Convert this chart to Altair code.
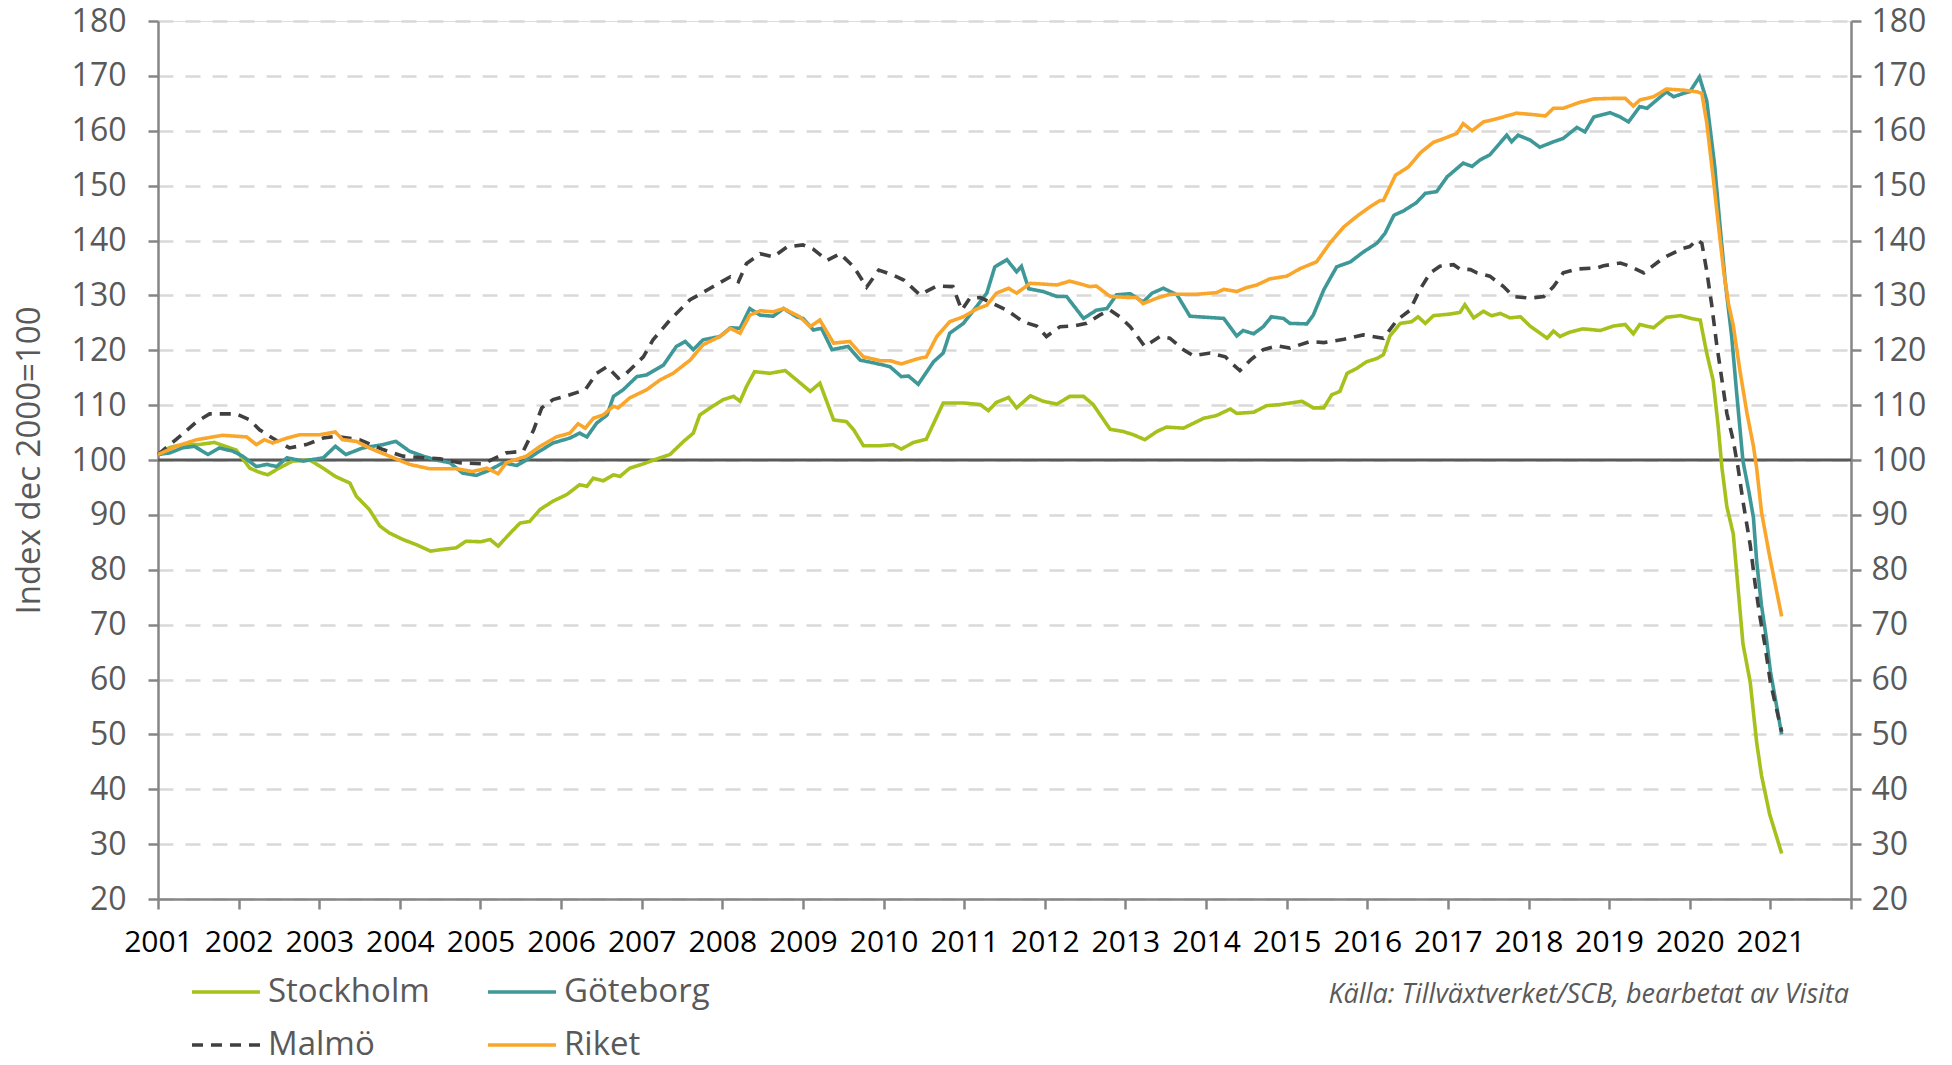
import altair as alt
import pandas as pd

SERIES = ["Stockholm", "Göteborg", "Malmö", "Riket"]
COLORS = ["#a4c11c", "#3e9898", "#404040", "#f9a62b"]
DASHES = [[1, 0], [1, 0], [11, 8], [1, 0]]

# (decimal year, index value)
STOCKHOLM = [
    (2001.0, 101), (2001.15, 102.3), (2001.3, 102.8), (2001.5, 102.8), (2001.7, 103.2), (2001.97, 101.8),
    (2002.14, 98.5), (2002.25, 97.8), (2002.36, 97.3), (2002.5, 98.5), (2002.67, 99.8), (2002.88, 100),
    (2003.05, 98.5), (2003.2, 97), (2003.38, 95.8), (2003.46, 93.4), (2003.62, 91), (2003.75, 88),
    (2003.87, 86.7), (2004.04, 85.5), (2004.2, 84.6), (2004.38, 83.4), (2004.53, 83.7), (2004.7, 84),
    (2004.82, 85.2), (2005.0, 85.1), (2005.12, 85.5), (2005.22, 84.3), (2005.37, 86.7), (2005.49, 88.5),
    (2005.61, 88.8), (2005.74, 91), (2005.9, 92.5), (2006.07, 93.7), (2006.23, 95.5), (2006.32, 95.2),
    (2006.4, 96.7), (2006.52, 96.2), (2006.65, 97.3), (2006.73, 97), (2006.85, 98.5), (2007.02, 99.3),
    (2007.19, 100.2), (2007.35, 101), (2007.52, 103.4), (2007.64, 104.9), (2007.72, 108.2), (2007.85, 109.5),
    (2008.01, 111), (2008.14, 111.6), (2008.22, 110.7), (2008.3, 113.4), (2008.4, 116.1), (2008.59, 115.8),
    (2008.78, 116.3), (2008.92, 114.6), (2009.09, 112.5), (2009.21, 114), (2009.38, 107.3), (2009.54, 107),
    (2009.63, 105.5), (2009.75, 102.6), (2009.96, 102.6), (2010.12, 102.8), (2010.22, 102), (2010.37, 103.2),
    (2010.53, 103.8), (2010.74, 110.4), (2010.99, 110.4), (2011.2, 110.1), (2011.3, 109), (2011.4, 110.5),
    (2011.55, 111.4), (2011.65, 109.5), (2011.82, 111.7), (2011.98, 110.7), (2012.15, 110.2), (2012.31, 111.6),
    (2012.48, 111.6), (2012.6, 110.1), (2012.81, 105.6), (2012.97, 105.2), (2013.1, 104.6), (2013.24, 103.7),
    (2013.39, 105.2), (2013.51, 106), (2013.72, 105.8), (2013.97, 107.6), (2014.13, 108.1), (2014.3, 109.3),
    (2014.38, 108.5), (2014.59, 108.7), (2014.75, 109.9), (2014.92, 110.1), (2015.19, 110.7), (2015.33, 109.5),
    (2015.46, 109.5), (2015.56, 111.9), (2015.66, 112.5), (2015.75, 115.8), (2015.87, 116.7), (2015.99, 117.9),
    (2016.12, 118.5), (2016.2, 119.2), (2016.28, 122.6), (2016.41, 124.9), (2016.55, 125.2), (2016.63, 126.1),
    (2016.72, 124.9), (2016.82, 126.3), (2017.03, 126.6), (2017.15, 126.9), (2017.21, 128.3), (2017.32, 125.9),
    (2017.44, 127.1), (2017.54, 126.3), (2017.65, 126.7), (2017.77, 125.9), (2017.9, 126.1), (2018.02, 124.4),
    (2018.23, 122.2), (2018.31, 123.5), (2018.39, 122.5), (2018.51, 123.3), (2018.68, 123.9), (2018.89, 123.6),
    (2019.05, 124.4), (2019.2, 124.7), (2019.3, 123), (2019.38, 124.7), (2019.55, 124.1), (2019.71, 126),
    (2019.88, 126.3), (2020.05, 125.7), (2020.13, 125.5), (2020.21, 119.5), (2020.29, 114.5), (2020.35, 106.5),
    (2020.4, 98.5), (2020.46, 91.5), (2020.54, 86.5), (2020.6, 76.5), (2020.66, 66.5), (2020.75, 59.5),
    (2020.83, 48.5), (2020.89, 42.5), (2020.99, 35.5), (2021.14, 28.3),
]

GOTEBORG = [
    (2001.0, 101), (2001.15, 101.3), (2001.3, 102.2), (2001.45, 102.5), (2001.62, 101), (2001.76, 102.2),
    (2001.93, 101.6), (2002.05, 100.7), (2002.22, 98.8), (2002.35, 99.2), (2002.47, 98.8), (2002.6, 100.4),
    (2002.8, 99.8), (2003.05, 100.4), (2003.2, 102.5), (2003.33, 101), (2003.54, 102.2), (2003.79, 102.8),
    (2003.95, 103.4), (2004.12, 101.6), (2004.29, 100.7), (2004.45, 100), (2004.62, 99.5), (2004.78, 97.6),
    (2004.95, 97.2), (2005.12, 98.2), (2005.28, 99.5), (2005.45, 99), (2005.57, 100), (2005.7, 101.3),
    (2005.9, 103.1), (2006.11, 104), (2006.23, 104.9), (2006.32, 104.2), (2006.44, 106.7), (2006.57, 108.2),
    (2006.65, 111.6), (2006.77, 112.8), (2006.94, 115.2), (2007.06, 115.5), (2007.27, 117.3), (2007.43, 120.7),
    (2007.54, 121.6), (2007.64, 120.1), (2007.76, 121.9), (2007.97, 122.5), (2008.1, 124.1), (2008.22, 124),
    (2008.34, 127.6), (2008.47, 126.4), (2008.63, 126.2), (2008.76, 127.6), (2008.92, 126.1), (2009.0, 125.8),
    (2009.13, 123.7), (2009.23, 124), (2009.36, 120.1), (2009.56, 120.7), (2009.71, 118.2), (2009.91, 117.6),
    (2010.08, 117), (2010.22, 115.2), (2010.31, 115.3), (2010.43, 113.8), (2010.62, 117.9), (2010.74, 119.5),
    (2010.82, 123.1), (2010.99, 124.9), (2011.15, 127.9), (2011.28, 130.4), (2011.38, 135.2), (2011.53, 136.5),
    (2011.65, 134.3), (2011.71, 135.3), (2011.8, 131.2), (2011.98, 130.7), (2012.15, 129.8), (2012.27, 129.8),
    (2012.48, 125.8), (2012.64, 127.3), (2012.77, 127.6), (2012.89, 130.1), (2013.06, 130.3), (2013.22, 128.8),
    (2013.33, 130.4), (2013.47, 131.3), (2013.64, 130.1), (2013.8, 126.2), (2014.01, 126), (2014.22, 125.8),
    (2014.38, 122.6), (2014.46, 123.6), (2014.59, 123), (2014.71, 124.3), (2014.81, 126.1), (2014.96, 125.8),
    (2015.04, 124.9), (2015.25, 124.8), (2015.33, 126.4), (2015.46, 131), (2015.62, 135.2), (2015.79, 136.1),
    (2015.95, 137.9), (2016.12, 139.5), (2016.22, 141.3), (2016.33, 144.6), (2016.45, 145.4), (2016.61, 146.9),
    (2016.72, 148.6), (2016.86, 148.9), (2016.99, 151.6), (2017.19, 154.1), (2017.3, 153.5), (2017.4, 154.7),
    (2017.52, 155.6), (2017.73, 159.2), (2017.79, 158), (2017.87, 159.2), (2018.02, 158.3), (2018.14, 157),
    (2018.31, 158), (2018.43, 158.6), (2018.6, 160.6), (2018.7, 159.8), (2018.81, 162.5), (2019.01, 163.3),
    (2019.14, 162.5), (2019.24, 161.6), (2019.38, 164.4), (2019.47, 164.1), (2019.59, 165.6), (2019.71, 167.1),
    (2019.8, 166.2), (2019.92, 166.8), (2020.0, 167.1), (2020.12, 169.8), (2020.21, 165.5), (2020.31, 153.5),
    (2020.37, 143.5), (2020.44, 132.5), (2020.52, 122.5), (2020.58, 112.5), (2020.66, 99.8), (2020.73, 94.5),
    (2020.79, 89.5), (2020.83, 81.5), (2020.89, 73.5), (2020.95, 67.5), (2021.0, 61.5), (2021.14, 50),
]

MALMO = [
    (2001.0, 101), (2001.27, 104.3), (2001.48, 107), (2001.64, 108.4), (2001.97, 108.4), (2002.14, 107.3),
    (2002.26, 105.5), (2002.42, 104), (2002.63, 102.2), (2002.84, 102.8), (2003.05, 104), (2003.2, 104.3),
    (2003.5, 103.7), (2003.79, 101.9), (2004.04, 100.7), (2004.29, 100.4), (2004.5, 100.2), (2004.74, 99.5),
    (2005.03, 99.3), (2005.32, 101.3), (2005.53, 101.6), (2005.66, 105.5), (2005.76, 109.5), (2005.9, 111),
    (2006.11, 111.9), (2006.3, 112.8), (2006.44, 115.8), (2006.57, 117), (2006.71, 114.9), (2006.81, 115.8),
    (2007.02, 118.8), (2007.14, 121.9), (2007.35, 125.5), (2007.6, 129.2), (2007.85, 131.3), (2008.1, 133.4),
    (2008.2, 132.5), (2008.3, 135.8), (2008.47, 137.6), (2008.63, 137), (2008.8, 138.8), (2009.0, 139.2),
    (2009.13, 138.4), (2009.3, 136.4), (2009.46, 137.6), (2009.63, 135.2), (2009.79, 131.5), (2009.94, 134.6),
    (2010.12, 133.7), (2010.25, 132.8), (2010.45, 130.1), (2010.66, 131.7), (2010.86, 131.6), (2010.97, 127.3),
    (2011.07, 129.5), (2011.2, 129.6), (2011.36, 128.5), (2011.53, 127.3), (2011.73, 125.2), (2011.9, 124.4),
    (2012.02, 122.5), (2012.19, 124.3), (2012.35, 124.4), (2012.52, 124.9), (2012.68, 126.4), (2012.81, 127.3),
    (2012.93, 126.1), (2013.06, 124.3), (2013.24, 120.7), (2013.43, 122.5), (2013.55, 122.2), (2013.72, 120.1),
    (2013.84, 119), (2014.05, 119.5), (2014.24, 118.8), (2014.32, 117.6), (2014.42, 116.3), (2014.55, 118.2),
    (2014.71, 120.1), (2014.88, 120.8), (2015.04, 120.4), (2015.29, 121.6), (2015.46, 121.4), (2015.71, 122),
    (2015.95, 122.8), (2016.2, 122.2), (2016.37, 125.5), (2016.53, 127.3), (2016.65, 131), (2016.78, 134.1),
    (2016.9, 135.3), (2017.07, 135.6), (2017.15, 134.8), (2017.28, 134.7), (2017.36, 134.1), (2017.52, 133.5),
    (2017.69, 131.6), (2017.81, 129.8), (2018.02, 129.5), (2018.19, 129.8), (2018.31, 131.6), (2018.43, 134.1),
    (2018.6, 134.8), (2018.85, 135), (2018.93, 135.4), (2019.14, 135.9), (2019.26, 135.3), (2019.43, 134.1),
    (2019.51, 135), (2019.67, 136.8), (2019.92, 138.6), (2020.0, 138.9), (2020.09, 140.1), (2020.15, 139.5),
    (2020.21, 134.5), (2020.27, 128.5), (2020.33, 121.5), (2020.4, 114.5), (2020.46, 108.5), (2020.54, 103.5),
    (2020.6, 98.5), (2020.66, 92.5), (2020.75, 84.5), (2020.81, 77.5), (2020.87, 71.5), (2020.93, 66.5),
    (2021.0, 59.5), (2021.14, 50.5),
]

RIKET = [
    (2001.0, 101), (2001.23, 102.5), (2001.48, 103.7), (2001.8, 104.5), (2002.1, 104.2), (2002.22, 102.8),
    (2002.32, 103.7), (2002.42, 103.1), (2002.6, 104), (2002.76, 104.6), (2003.0, 104.6), (2003.2, 105.1),
    (2003.29, 103.7), (2003.46, 103.4), (2003.62, 102.2), (2003.87, 100.7), (2004.12, 99.2), (2004.37, 98.4),
    (2004.7, 98.4), (2004.9, 97.9), (2005.08, 98.5), (2005.22, 97.5), (2005.32, 99.5), (2005.57, 100.7),
    (2005.74, 102.5), (2005.94, 104.2), (2006.11, 104.9), (2006.21, 106.6), (2006.3, 105.8), (2006.4, 107.6),
    (2006.52, 108.2), (2006.65, 109.8), (2006.71, 109.5), (2006.85, 111.3), (2007.06, 112.8), (2007.23, 114.6),
    (2007.39, 115.8), (2007.6, 118.2), (2007.76, 121), (2007.97, 122.5), (2008.1, 124), (2008.22, 123.1),
    (2008.34, 126.4), (2008.47, 127.2), (2008.63, 127), (2008.76, 127.6), (2008.96, 126.1), (2009.09, 124.3),
    (2009.21, 125.5), (2009.38, 121.3), (2009.58, 121.6), (2009.75, 118.8), (2009.96, 118.1), (2010.08, 118.1),
    (2010.22, 117.5), (2010.41, 118.4), (2010.53, 118.8), (2010.66, 122.5), (2010.82, 125.2), (2010.99, 126.1),
    (2011.15, 127.5), (2011.28, 128.2), (2011.4, 130.4), (2011.55, 131.3), (2011.65, 130.4), (2011.82, 132.2),
    (2012.15, 131.9), (2012.31, 132.6), (2012.56, 131.6), (2012.64, 131.7), (2012.81, 129.8), (2013.06, 129.6),
    (2013.14, 129.6), (2013.22, 128.5), (2013.39, 129.5), (2013.55, 130.2), (2013.88, 130.2), (2014.13, 130.5),
    (2014.22, 131.1), (2014.38, 130.7), (2014.5, 131.4), (2014.63, 131.9), (2014.79, 133), (2015.0, 133.5),
    (2015.17, 134.9), (2015.37, 136.1), (2015.54, 139.6), (2015.71, 142.5), (2015.87, 144.4), (2016.04, 146.2),
    (2016.16, 147.3), (2016.2, 147.3), (2016.35, 151.9), (2016.51, 153.4), (2016.66, 156), (2016.82, 157.9),
    (2016.9, 158.3), (2017.11, 159.5), (2017.19, 161.3), (2017.3, 160), (2017.44, 161.6), (2017.61, 162.2),
    (2017.85, 163.2), (2018.02, 163), (2018.21, 162.7), (2018.31, 164.1), (2018.43, 164.1), (2018.64, 165.2),
    (2018.81, 165.8), (2019.05, 165.9), (2019.2, 165.9), (2019.3, 164.5), (2019.38, 165.6), (2019.55, 166.2),
    (2019.71, 167.6), (2019.92, 167.4), (2020.09, 167.1), (2020.15, 166.8), (2020.21, 161.5), (2020.29, 151.5),
    (2020.35, 143.5), (2020.42, 134.5), (2020.48, 128.5), (2020.54, 124.5), (2020.62, 116.5), (2020.71, 108.5),
    (2020.79, 102.5), (2020.83, 98.5), (2020.89, 90.5), (2020.99, 82.5), (2021.14, 71.5),
]

YEAR_TICKS = list(range(2001, 2023))
Y_TICKS = list(range(20, 181, 10))
REFERENCE = [100]
SOURCE = ["Källa: Tillväxtverket/SCB, bearbetat av Visita"]

rows = []
for name, pts in zip(SERIES, [STOCKHOLM, GOTEBORG, MALMO, RIKET]):
    for t, v in pts:
        rows.append({"series": name, "t": t, "v": v})
df = pd.DataFrame(rows)

FONT = "Open Sans"
GRAY = "#595959"
AXIS_GRAY = "#868686"
PLOT_W = 1693
PLOT_H = 878

x_enc = alt.X(
    "t:Q",
    scale=alt.Scale(domain=[2001, 2022], nice=False, zero=False),
    axis=alt.Axis(
        values=YEAR_TICKS, format="d", title=None, grid=False,
        labelExpr="datum.value == 2022 ? '' : datum.label",
        domainColor=AXIS_GRAY, domainWidth=2.5, tickColor=AXIS_GRAY, tickWidth=2.5,
        tickSize=10, labelColor="#000000", labelFont=FONT, labelFontSize=30,
        labelPadding=18, labelFlush=False, labelOverlap=False,
    ),
)

y_scale = alt.Scale(domain=[20, 180], nice=False, zero=False)

legend_cfg = dict(
    title=None, orient="none", legendX=32, legendY=935, columns=2, direction="horizontal",
    symbolType="stroke", symbolSize=4624, symbolStrokeWidth=3.4,
    labelFont=FONT, labelFontSize=33, labelColor=GRAY, labelOffset=6,
    columnPadding=51, rowPadding=-18, labelLimit=400,
)

lines = alt.Chart(df).mark_line(strokeWidth=3.6).encode(
    x=x_enc,
    y=alt.Y(
        "v:Q", scale=y_scale,
        axis=alt.Axis(
            orient="left", values=Y_TICKS, title="Index dec 2000=100",
            grid=True, gridColor="#d9d9d9", gridDash=[15, 12], gridWidth=2.5,
            domainColor=AXIS_GRAY, domainWidth=2.5, tickColor=AXIS_GRAY, tickWidth=2.5,
            tickSize=10, labelColor=GRAY, labelFont=FONT, labelFontSize=32, labelPadding=22,
            titleColor=GRAY, titleFont=FONT, titleFontSize=33, titleFontWeight="normal",
            titleAngle=-90, titleX=-129, titleY=PLOT_H / 2, titleAlign="center", titleBaseline="middle",
        ),
    ),
    color=alt.Color(
        "series:N",
        scale=alt.Scale(domain=SERIES, range=COLORS),
        legend=alt.Legend(**legend_cfg),
    ),
    strokeDash=alt.StrokeDash(
        "series:N",
        scale=alt.Scale(domain=SERIES, range=DASHES),
        legend=alt.Legend(**legend_cfg),
    ),
    order=alt.Order("t:Q"),
)

ref_rule = alt.Chart(pd.DataFrame({"ref": REFERENCE})).mark_rule(
    color=GRAY, strokeWidth=3
).encode(
    y=alt.Y(
        "ref:Q", scale=y_scale,
        axis=alt.Axis(
            orient="right", values=Y_TICKS, title=None, grid=False,
            domainColor=AXIS_GRAY, domainWidth=2.5, tickColor=AXIS_GRAY, tickWidth=2.5,
            tickSize=10, labelColor=GRAY, labelFont=FONT, labelFontSize=32, labelPadding=10,
        ),
    ),
)

source = alt.Chart(pd.DataFrame({"txt": SOURCE})).mark_text(
    align="right", baseline="middle", font=FONT, fontSize=27, fontStyle="italic", color=GRAY
).encode(
    text="txt:N",
    x=alt.value(PLOT_W - 2),
    y=alt.value(974),
)

chart = (
    alt.layer(ref_rule, lines, source)
    .resolve_axis(y="independent")
    .properties(
        width=PLOT_W, height=PLOT_H,
        autosize=alt.AutoSizeParams(type="none"),
        padding={"left": 150, "top": 13, "right": 85, "bottom": 157},
    )
    .configure_view(stroke=None)
    .configure(background="white")
)

chart.save("out.html", embed_options={"renderer": "svg", "actions": False})
